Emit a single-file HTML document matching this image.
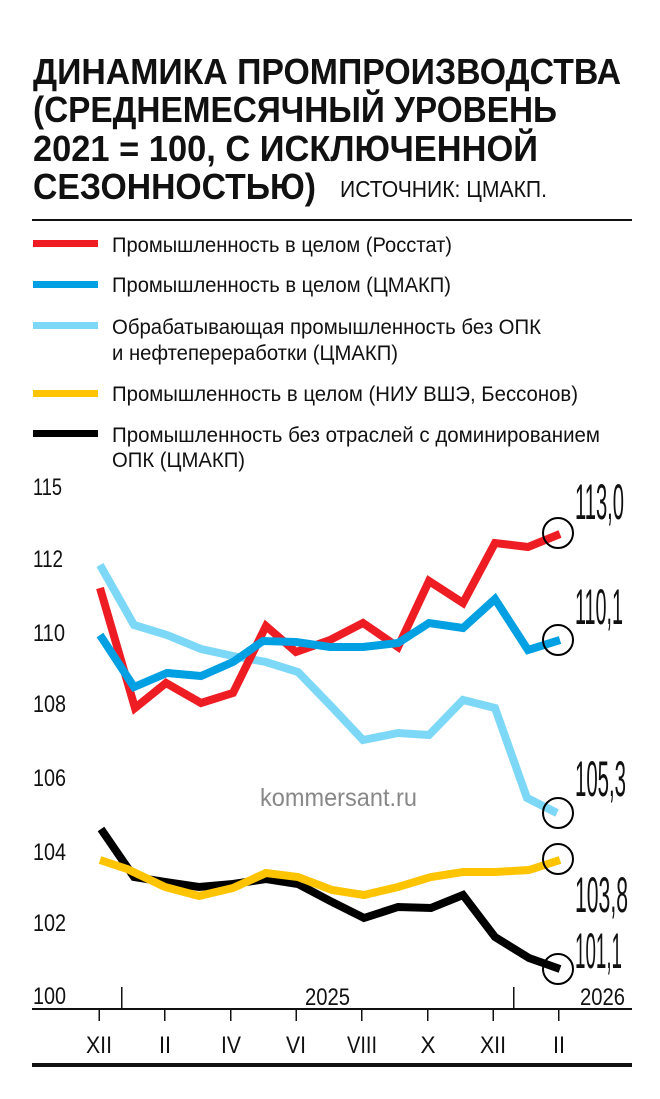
<!DOCTYPE html>
<html><head><meta charset="utf-8"><style>
html,body{margin:0;padding:0;background:#fff;}
svg{display:block;}
text{font-family:"Liberation Sans",sans-serif;fill:#111;}
.t{font-weight:bold;font-size:36px;}
.l{font-size:21px;}
.a{font-size:24px;}
.v{font-size:50px;}
</style></head><body>
<svg width="660" height="1099" viewBox="0 0 660 1099" xmlns="http://www.w3.org/2000/svg">
<text class="t" x="33" y="84" textLength="588" lengthAdjust="spacingAndGlyphs">ДИНАМИКА ПРОМПРОИЗВОДСТВА</text>
<text class="t" x="33" y="122" textLength="524" lengthAdjust="spacingAndGlyphs">(СРЕДНЕМЕСЯЧНЫЙ УРОВЕНЬ</text>
<text class="t" x="33" y="161" textLength="505" lengthAdjust="spacingAndGlyphs">2021 = 100, С ИСКЛЮЧЕННОЙ</text>
<text class="t" x="33" y="199" textLength="283" lengthAdjust="spacingAndGlyphs">СЕЗОННОСТЬЮ)</text>
<text class="l" x="340" y="197" textLength="207" lengthAdjust="spacingAndGlyphs" style="font-size:23px">ИСТОЧНИК: ЦМАКП.</text>
<rect x="32" y="219" width="600" height="2" fill="#111"/>
<rect x="33" y="240" width="65" height="7" fill="#ee1c23"/>
<text class="l" x="112" y="252" textLength="340" lengthAdjust="spacingAndGlyphs">Промышленность в целом (Росстат)</text>
<rect x="33" y="281" width="65" height="7" fill="#00a0e3"/>
<text class="l" x="112" y="292" textLength="339" lengthAdjust="spacingAndGlyphs">Промышленность в целом (ЦМАКП)</text>
<rect x="33" y="322" width="65" height="7" fill="#7dd8f7"/>
<text class="l" x="112" y="334" textLength="429" lengthAdjust="spacingAndGlyphs">Обрабатывающая промышленность без ОПК</text>
<text class="l" x="112" y="360" textLength="286" lengthAdjust="spacingAndGlyphs">и нефтепереработки (ЦМАКП)</text>
<rect x="33" y="390" width="65" height="7" fill="#ffc400"/>
<text class="l" x="112" y="401" textLength="466" lengthAdjust="spacingAndGlyphs">Промышленность в целом (НИУ ВШЭ, Бессонов)</text>
<rect x="33" y="430" width="65" height="7" fill="#000"/>
<text class="l" x="112" y="442" textLength="488" lengthAdjust="spacingAndGlyphs">Промышленность без отраслей с доминированием</text>
<text class="l" x="112" y="467" textLength="133" lengthAdjust="spacingAndGlyphs">ОПК (ЦМАКП)</text>

<g class="a">
<text x="33" y="495" textLength="29" lengthAdjust="spacingAndGlyphs">115</text>
<text x="33" y="567" textLength="30" lengthAdjust="spacingAndGlyphs">112</text>
<text x="33" y="641" textLength="32" lengthAdjust="spacingAndGlyphs">110</text>
<text x="33" y="712" textLength="33" lengthAdjust="spacingAndGlyphs">108</text>
<text x="33" y="786" textLength="33" lengthAdjust="spacingAndGlyphs">106</text>
<text x="33" y="860" textLength="33" lengthAdjust="spacingAndGlyphs">104</text>
<text x="33" y="931" textLength="33" lengthAdjust="spacingAndGlyphs">102</text>
<text x="33" y="1004" textLength="33" lengthAdjust="spacingAndGlyphs">100</text>
</g>
<text x="260" y="806" style="font-size:25px;fill:#888" textLength="157" lengthAdjust="spacingAndGlyphs">kommersant.ru</text>

<g fill="none" stroke-width="8" stroke-linejoin="miter" stroke-linecap="butt">
<polyline stroke="#7dd8f7" points="100,565 134,625 167,635 201,649 233,656 266,662 298,672 330,705 363,740 398,733 429,735 463,700 495,708 527,798 557,813"/>
<polyline stroke="#ee1c23" points="100,588 135,708 166,683 201,703 233,693 266,626 296,652 330,640 363,623 398,647 429,581 463,603 495,543 528,547 560,534"/>
<polyline stroke="#00a0e3" points="100,635 134,687 167,673 201,676 233,662 263,641 296,642 330,647 363,647 398,643 429,623 463,628 495,599 528,650 560,640"/>
<polyline stroke="#000" points="101,829 134,877 165,882 199,887 233,884 266,879 298,884 332,902 364,918 398,907 431,908 463,895 495,937 529,958 560,969"/>
<polyline stroke="#ffc400" points="100,860 127,869 165,887 199,896 233,888 266,873 298,877 332,890 364,895 398,887 431,877 463,872 495,872 529,870 560,860"/>
</g>
<g fill="none" stroke="#000" stroke-width="2">
<circle cx="558" cy="533" r="15"/>
<circle cx="558" cy="640" r="15"/>
<circle cx="558" cy="813" r="15"/>
<circle cx="558" cy="859" r="15"/>
<circle cx="558" cy="969" r="15"/>
</g>
<g class="v">
<text x="575" y="519" textLength="49" lengthAdjust="spacingAndGlyphs">113,0</text>
<text x="575" y="624" textLength="48" lengthAdjust="spacingAndGlyphs">110,1</text>
<text x="575" y="796" textLength="51" lengthAdjust="spacingAndGlyphs">105,3</text>
<text x="575" y="912" textLength="53" lengthAdjust="spacingAndGlyphs">103,8</text>
<text x="575" y="968" textLength="47" lengthAdjust="spacingAndGlyphs">101,1</text>
</g>

<rect x="32" y="1008" width="600" height="2" fill="#111"/>
<rect x="121" y="987" width="1.5" height="22" fill="#111"/>
<rect x="513" y="987" width="1.5" height="22" fill="#111"/>
<text class="a" x="305" y="1005" textLength="45" lengthAdjust="spacingAndGlyphs">2025</text>
<text class="a" x="580" y="1005" textLength="45" lengthAdjust="spacingAndGlyphs">2026</text>
<g fill="#111">
<rect x="98.5" y="1009" width="1.5" height="12"/>
<rect x="164" y="1009" width="1.5" height="12"/>
<rect x="230" y="1009" width="1.5" height="12"/>
<rect x="295.5" y="1009" width="1.5" height="12"/>
<rect x="361" y="1009" width="1.5" height="12"/>
<rect x="427" y="1009" width="1.5" height="12"/>
<rect x="492.5" y="1009" width="1.5" height="12"/>
<rect x="558" y="1009" width="1.5" height="12"/>
</g>
<g class="a" text-anchor="middle">
<text x="99" y="1053" textLength="26" lengthAdjust="spacingAndGlyphs">XII</text>
<text x="165" y="1053" textLength="12" lengthAdjust="spacingAndGlyphs">II</text>
<text x="231" y="1053" textLength="20" lengthAdjust="spacingAndGlyphs">IV</text>
<text x="296" y="1053" textLength="20" lengthAdjust="spacingAndGlyphs">VI</text>
<text x="362" y="1053" textLength="30" lengthAdjust="spacingAndGlyphs">VIII</text>
<text x="428" y="1053" textLength="15" lengthAdjust="spacingAndGlyphs">X</text>
<text x="493" y="1053" textLength="26" lengthAdjust="spacingAndGlyphs">XII</text>
<text x="559" y="1053" textLength="12" lengthAdjust="spacingAndGlyphs">II</text>
</g>
<rect x="32" y="1063" width="600" height="4" fill="#111"/>
</svg>
</body></html>
